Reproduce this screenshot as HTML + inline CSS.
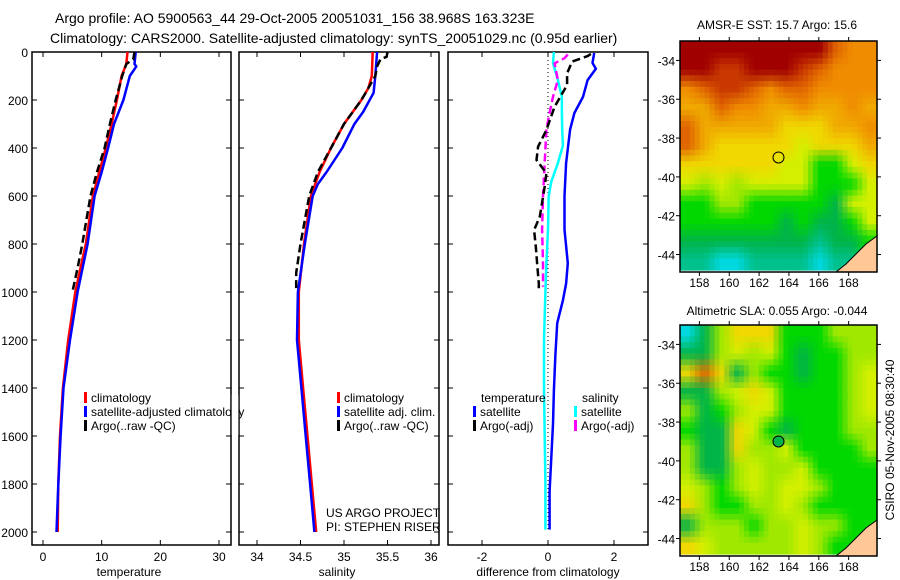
<!DOCTYPE html>
<html><head><meta charset="utf-8"><style>
body{margin:0;background:#fff;}
svg{display:block;font-family:"Liberation Sans",sans-serif;}
</style></head><body>
<svg id="fig" width="900" height="580" viewBox="0 0 900 580">
<text x="55" y="23" font-size="14">Argo profile: AO 5900563_44 29-Oct-2005 20051031_156 38.968S 163.323E</text>
<text x="50" y="43" font-size="14">Climatology: CARS2000. Satellite-adjusted climatology: synTS_20051029.nc (0.95d earlier)</text>
<text x="777" y="29" font-size="12" text-anchor="middle">AMSR-E SST: 15.7 Argo: 15.6</text>
<text x="777" y="315" font-size="12" text-anchor="middle">Altimetric SLA: 0.055 Argo: -0.044</text>
<text transform="translate(894,440) rotate(-90)" font-size="12" text-anchor="middle">CSIRO 05-Nov-2005 08:30:40</text>
</svg>
<script>
// ---- data ----
const depthTicks=[0,200,400,600,800,1000,1200,1400,1600,1800,2000];
const tempTicks=[0,10,20,30];
const saltTicks=[34,34.5,35,35.5,36];
const saltTickLabels=["34","34.5","35","35.5","36"];
const diffTicks=[-2,0,2];
const tClimDepth=[0,50,100,200,300,400,500,600,700,800,900,1000,1200,1400,1600,1800,2000];
const tClim=[14.4,14.2,13.4,12.6,11.7,10.7,9.6,8.5,7.9,7.3,6.4,5.5,4.3,3.4,2.9,2.6,2.5];
const tSatDepth=[0,50,60,100,200,300,400,500,600,800,1000,1200,1400,1600,1800,2000];
const tSat=[15.8,15.6,15.9,14.8,13.7,12.1,11.1,10.0,8.8,7.6,5.9,4.6,3.5,3.0,2.6,2.3];
const tArgoDepth=[0,30,50,100,200,300,400,500,600,700,800,900,990];
const tArgo=[15.6,15.4,14.2,13.5,12.4,11.4,10.5,9.2,8.1,7.4,6.7,5.9,5.1];
const sClimDepth=[0,100,150,200,300,400,500,600,800,1000,1200,1400,1600,1800,2000];
const sClim=[35.33,35.32,35.28,35.2,35.0,34.85,34.72,34.62,34.54,34.48,34.48,34.53,34.58,34.63,34.68];
const sSatDepth=[0,50,100,170,250,300,400,500,550,600,800,1000,1200,1400,1600,1800,2000];
const sSat=[35.38,35.37,35.36,35.34,35.22,35.12,34.98,34.8,34.7,34.64,34.55,34.47,34.46,34.51,34.56,34.61,34.66];
const sArgoDepth=[0,20,30,60,100,150,200,300,400,500,600,800,920,990];
const sArgo=[35.5,35.49,35.42,35.38,35.36,35.28,35.2,35.0,34.85,34.7,34.6,34.5,34.45,34.45];
const dTSatDepth=[4,46,70,117,187,254,323,463,600,740,880,965,1035,1130,1270,1410,1550,1690,1830,1990];
const dTSat=[1.4,1.35,1.45,1.2,1.06,0.8,0.67,0.55,0.5,0.5,0.6,0.55,0.45,0.28,0.22,0.18,0.15,0.1,0.05,0.05];
const dSSatDepth=[0,46,117,187,254,323,390,463,540,600,740,880,1000,1200,1400,1600,1800,1990];
const dSSat=[0.18,0.15,0.3,0.42,0.42,0.43,0.45,0.3,0.1,0.02,0,-0.05,-0.08,-0.12,-0.12,-0.1,-0.08,-0.08];
const dTArgoDepth=[8,17,40,89,138,228,325,394,450,505,561,686,742,811,880,964,1000];
const dTArgo=[1.3,1.2,0.73,0.58,0.58,0.2,-0.05,-0.3,-0.35,-0.05,-0.1,-0.25,-0.42,-0.37,-0.33,-0.28,-0.28];
const dSArgoDepth=[10,26,47,117,186,254,323,460,600,740,880,978];
const dSArgo=[0.6,0.5,0.2,0.3,0.15,0.05,-0.05,-0.1,-0.15,-0.18,-0.15,-0.15];
const lonTicks=[158,160,162,164,166,168];
const latTicks=[-34,-36,-38,-40,-42,-44];
const argoLon=163.3, argoLat=-39.0;
const sstGrid=["RRRRRRRRRoOO","RRrrRRRroOOO","OorroOooOOOO","aaoOOaaOaaOa","oaaaaayyyaaO","oayyyyyYyyya","yyyyyyYYggYy","YlYlYYYYgggY","ggllgggggGYY","ggggggGgGGgY","GGGGGGGGtGGg","ttccttttcttg"];
const slaGrid=["cGlyyyggglll","GGlYlYgGggll","yoyGlggGgglY","GGlYyYgggglY","lGglYYgggglY","gGGyYgGgggll","lGGyllYggggl","lGGlYllYgggg","YlglYlYYlggg","ylggllYlgggg","GlllgllYllgg","yYlllllYlggg"];
const cmap={R:[160,0,0],r:[200,56,0],o:[224,100,0],O:[240,140,0],a:[240,170,0],y:[240,216,0],Y:[212,240,0],l:[160,232,0],g:[0,216,0],G:[0,180,72],t:[0,192,140],c:[0,216,224]};

// ---- helpers ----
const svg=document.getElementById('fig');
const NS="http://www.w3.org/2000/svg";
function mk(tag,attrs,parent){const e=document.createElementNS(NS,tag);for(const k in attrs)e.setAttribute(k,attrs[k]);(parent||svg).appendChild(e);return e;}
const yTop=52,yPerM=0.24;
function yD(d){return yTop+d*yPerM;}
function lin(v0,p0,v1,p1){return v=>p0+(v-v0)*(p1-p0)/(v1-v0);}
const xT=lin(0,43,30,219), xS=lin(34,257,36,431), xDf=lin(0,548,2,614);

function panel(x0,x1,name){
  const r=mk('rect',{x:x0,y:yTop,width:x1-x0,height:545-yTop,fill:'none',stroke:'#000','stroke-width':1.5});
  
  
  depthTicks.forEach(d=>{const y=yD(d);
    const t1=mk('line',{x1:x0,x2:x0+5,y1:y,y2:y,stroke:'#000'});
    
    const t2=mk('line',{x1:x1-5,x2:x1,y1:y,y2:y,stroke:'#000'});
    
  });
}
function xticks(ticks,labels,f,x0,x1,name){
  ticks.forEach((v,i)=>{const x=f(v);
    const a=mk('line',{x1:x,x2:x,y1:yTop,y2:yTop+5,stroke:'#000'});
    
    const b=mk('line',{x1:x,x2:x,y1:540,y2:545,stroke:'#000'});
    
    const t=mk('text',{x:x,y:561,'font-size':12,'text-anchor':'middle'});t.textContent=labels[i];
    
  });
}
function line(ds,vs,f,color,name,dash,w){
  const pts=ds.map((d,i)=>f(vs[i]).toFixed(1)+','+yD(d).toFixed(1)).join(' ');
  const a={points:pts,fill:'none',stroke:color,'stroke-width':w||2.5,'stroke-linejoin':'round'};
  if(dash)a['stroke-dasharray']=dash;
  const p=mk('polyline',a);
  
  
}
function txt(x,y,s,name,size,anchor){const t=mk('text',{x:x,y:y,'font-size':size||12,'text-anchor':anchor||'start'});t.textContent=s;
  return t;}
function legend(x,y,color,label,name){
  const b=mk('rect',{x:x,y:y-10,width:3,height:11,fill:color});
  
  txt(x+7,y,label,name);
}

depthTicks.forEach(d=>txt(28,yD(d)+5,String(d),'depth-tick-label',12,'end'));

// temperature panel
panel(32,231,'temperature-panel');
xticks(tempTicks,tempTicks.map(String),xT,32,231,'temperature-axis');
line(tClimDepth,tClim,xT,'#ff0000','temp-climatology-line');
line(tSatDepth,tSat,xT,'#0000ff','temp-satellite-line');
line(tArgoDepth,tArgo,xT,'#000','temp-argo-line','8,4');
txt(129,576,'temperature','temperature-axis-title',12,'middle');
legend(84,402,'#ff0000','climatology','temp-legend-climatology');
legend(84,416,'#0000ff','satellite-adjusted climatology','temp-legend-satellite');
legend(84,430,'#000','Argo(..raw -QC)','temp-legend-argo');

// salinity panel
panel(239,439,'salinity-panel');
xticks(saltTicks,saltTickLabels,xS,239,439,'salinity-axis');
line(sClimDepth,sClim,xS,'#ff0000','salt-climatology-line');
line(sSatDepth,sSat,xS,'#0000ff','salt-satellite-line');
line(sArgoDepth,sArgo,xS,'#000','salt-argo-line','8,4');
txt(337,576,'salinity','salinity-axis-title',12,'middle');
legend(337,402,'#ff0000','climatology','salt-legend-climatology');
legend(337,416,'#0000ff','satellite adj. clim.','salt-legend-satellite');
legend(337,430,'#000','Argo(..raw -QC)','salt-legend-argo');
txt(326,517,'US ARGO PROJECT','project-credit');
txt(326,531,'PI: STEPHEN RISER','pi-credit');

const cov=mk('rect',{x:231.8,y:395,width:6.5,height:40,fill:'#fff'});


// difference panel
panel(448,648,'difference-panel');
xticks(diffTicks,diffTicks.map(String),xDf,448,648,'difference-axis');
const zl=mk('line',{x1:xDf(0),x2:xDf(0),y1:yD(0),y2:yD(2000),stroke:'#000','stroke-dasharray':'1,3'});

line(dSSatDepth,dSSat,xDf,'#00ffff','diff-salt-satellite-line');
line(dTSatDepth,dTSat,xDf,'#0000ff','diff-temp-satellite-line');
line(dSArgoDepth,dSArgo,xDf,'#ff00ff','diff-salt-argo-line','8,4');
line(dTArgoDepth,dTArgo,xDf,'#000','diff-temp-argo-line','8,4');
txt(548,576,'difference from climatology','difference-axis-title',12,'middle');
txt(481,402,'temperature','diff-legend-temperature-header');
legend(473,416,'#0000ff','satellite','diff-legend-temp-satellite');
legend(473,430,'#000','Argo(-adj)','diff-legend-temp-argo');
txt(582,402,'salinity','diff-legend-salinity-header');
legend(574,416,'#00ffff','satellite','diff-legend-salt-satellite');
legend(574,430,'#ff00ff','Argo(-adj)','diff-legend-salt-argo');

// maps
function sample(grid,u,v){ // bilinear colour sample, u,v in cell units
  const n=12;
  const x=Math.min(Math.max(u-0.5,0),n-1), y=Math.min(Math.max(v-0.5,0),n-1);
  const i0=Math.floor(y),j0=Math.floor(x),i1=Math.min(i0+1,n-1),j1=Math.min(j0+1,n-1);
  const fy=y-i0,fx=x-j0;
  const c00=cmap[grid[i0][j0]],c01=cmap[grid[i0][j1]],c10=cmap[grid[i1][j0]],c11=cmap[grid[i1][j1]];
  const out=[0,1,2].map(k=>Math.round(c00[k]*(1-fx)*(1-fy)+c01[k]*fx*(1-fy)+c10[k]*(1-fx)*fy+c11[k]*fx*fy));
  return 'rgb('+out.join(',')+')';
}
function map(top,grid,name,circleFill){
  const L=680,R=877,B=top+231;
  const mx=lin(156.7,L,169.9,R), my=lin(-33,top,-44.9,B);
  const g=mk('g',{});
  
  const N=40,cw=(R-L)/N,ch=(B-2-top)/N;
  for(let i=0;i<N;i++)for(let j=0;j<N;j++){
    const c=mk('rect',{x:(L+j*cw).toFixed(1),y:(top+i*ch).toFixed(1),width:(cw+0.6).toFixed(1),height:(ch+0.6).toFixed(1),fill:sample(grid,(j+0.5)*12/N,(i+0.5)*12/N)},g);
    
    
  }
  const land=mk('polygon',{points:`${R},${top+195} ${R},${B} ${836},${B} 846,${B-8} 858,${B-20} 866,${top+203}`,fill:'#ffc896',stroke:'#000','stroke-width':1},g);
  
  const fr=mk('rect',{x:L,y:top,width:R-L,height:B-top,fill:'none',stroke:'#000','stroke-width':1.5});
  
  lonTicks.forEach(v=>{const x=mx(v);
    const a=mk('line',{x1:x,x2:x,y1:top-4,y2:top,stroke:'#000'});
    const b=mk('line',{x1:x,x2:x,y1:B,y2:B+4,stroke:'#000'});
    txt(x,B+15,String(v),name+'-lon-label',12,'middle');
  });
  latTicks.forEach(v=>{const y=my(v);
    const a=mk('line',{x1:L-4,x2:L,y1:y,y2:y,stroke:'#000'});
    const b=mk('line',{x1:R,x2:R+4,y1:y,y2:y,stroke:'#000'});
    txt(L-5,y+5,String(v),name+'-lat-label',12,'end');
  });
  const c=mk('circle',{cx:mx(argoLon),cy:my(argoLat),r:5.5,fill:circleFill,stroke:'#000','stroke-width':1});
  
}
map(41,sstGrid,'sst-map','none');
map(325,slaGrid,'sla-map','#00b448');
</script>
</body></html>
